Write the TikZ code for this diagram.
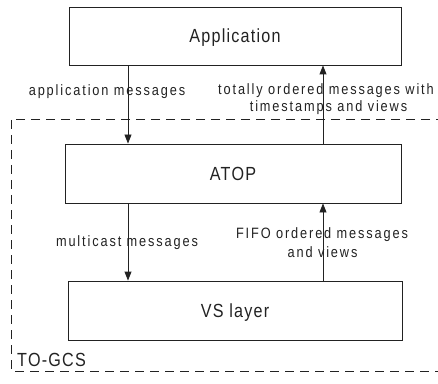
\documentclass[tikz,border=0pt]{standalone}
\usepackage{fontspec}
\setmainfont{Liberation Sans}
\newfontfamily\boxfont[FakeStretch=0.85,LetterSpace=6.5]{Liberation Sans}
\newfontfamily\labfont[FakeStretch=0.85,LetterSpace=12.5]{Liberation Sans}
\usetikzlibrary{arrows.meta}
\definecolor{ink}{HTML}{222222}
\tikzset{
  layer/.style={draw=ink, line width=0.9pt, inner sep=0pt,
    text height=13.6pt, text depth=0pt, text=ink,
    font=\boxfont\fontsize{19}{22}\selectfont},
  msg/.style={inner sep=0pt, anchor=base, align=center,
    font=\labfont\fontsize{15}{17}\selectfont, text=ink},
  flow/.style={draw=ink, line width=0.9pt,
    -{Triangle[length=9pt,width=7pt]}},
  group/.style={draw=ink, line width=0.9pt, dash pattern=on 9pt off 6pt}
}
\begin{document}
\begin{tikzpicture}[x=1pt,y=1pt]
\useasboundingbox (0,0) rectangle (438,383);
\clip (0,0) rectangle (438,383);
% layers
\node[layer, minimum width=332pt, minimum height=58pt] (app) at (235,347) {Application};
\node[layer, minimum width=336pt, minimum height=59pt] (atop) at (233,209.5) {ATOP};
\node[layer, minimum width=334pt, minimum height=59pt] (vs) at (235,72.5) {VS layer};
% group boundary, open to the right
\draw[group] (460,264) -- (11,264) -- (11,12) -- (460,12);
\node[inner sep=0pt, anchor=base west, font=\boxfont\fontsize{19}{22}\selectfont, text=ink] (gcs) at (17,17) {TO-GCS};
% message flows
\draw[flow] (app.south -| 128,0) -- (atop.north -| 128,0);
\draw[flow] (atop.north -| 323,0) -- (app.south -| 323,0);
\draw[flow] (atop.south -| 128,0) -- (vs.north -| 128,0);
\draw[flow] (vs.north -| 323,0) -- (atop.south -| 323,0);
% flow labels
\node[msg] (l1) at (107,287.3) {application messages};
\node[msg] (l2) at (326,288) {totally ordered messages with};
\node[msg] (l3) at (328.5,271) {timestamps and views};
\node[msg] (l4) at (127,136.3) {multicast messages};
\node[msg] (l5) at (322,144.7) {FIFO ordered messages};
\node[msg] (l6) at (322.5,125.7) {and views};
\end{tikzpicture}
\end{document}
